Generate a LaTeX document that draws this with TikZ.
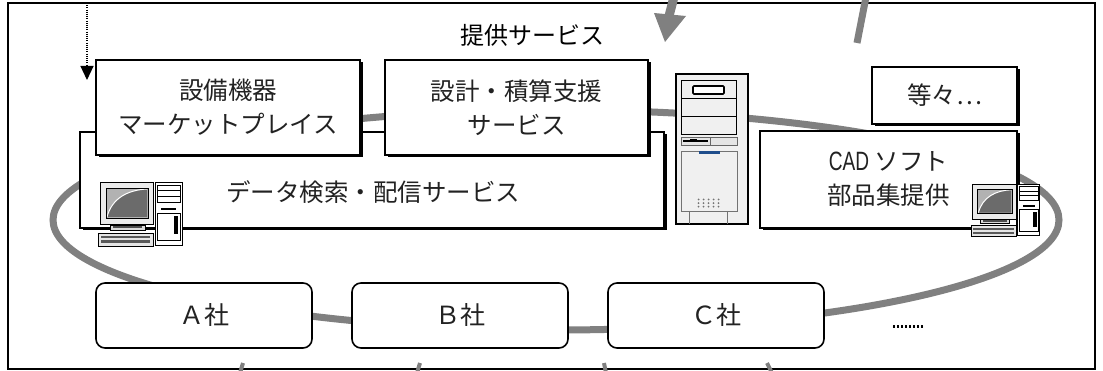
\documentclass[tikz,border=0pt]{standalone}
\usepackage{fontspec}
\setmainfont{Noto Sans CJK JP}
\newfontfamily\narrowsans[FakeStretch=0.72]{Liberation Sans}
\usetikzlibrary{arrows.meta,shadows}

\definecolor{ringgray}{HTML}{808080}
\definecolor{textgray}{HTML}{222222}
\definecolor{ledblue}{HTML}{1F4E8C}

\tikzset{
  svcbox/.style={draw, line width=1.6pt, fill=white, inner sep=0pt, align=center,
    text=textgray, font=\fontsize{24.5}{34}\selectfont,
    drop shadow={shadow xshift=2.5pt, shadow yshift=-2.5pt, fill=black, opacity=1}},
  compbox/.style={draw, line width=1.6pt, fill=white, rounded corners=9pt,
    minimum width=216, minimum height=65, inner sep=0pt,
    text=textgray, font=\fontsize{25}{30}\selectfont},
  ring/.style={draw=ringgray, line width=7pt},
  spoke/.style={draw=ringgray, line width=4pt},
  feed/.style={line width=1.1pt, dash pattern=on 1.1pt off 1.1pt,
    -{Triangle[width=13pt,length=14pt]}},
  pics/desktop/.style={code={
    % tower unit
    \draw[line width=0.8pt, fill=white] (57,0) rectangle (84,63);
    \draw[line width=0.6pt] (59,3) rectangle (82,20);
    \draw[line width=0.5pt] (59,8.5) -- (82,8.5) (59,14) -- (82,14);
    \fill (63,26) rectangle (78,28.5);
    \draw[line width=0.5pt] (59,31) rectangle (82,58);
    \fill (76,34) rectangle (80,52);
    % monitor with shaded screen
    \draw[line width=1pt, fill=black!8] (2,1) rectangle (55,43);
    \fill[black!30] (8,6) rectangle (50,36);
    \fill[black!58] (9,35) .. controls (14,16) and (30,8) .. (49,7) -- (49,35) -- cycle;
    \draw[white, line width=1pt] (9,35) .. controls (14,16) and (30,8) .. (49,7);
    \draw[line width=0.8pt] (8,6) rectangle (50,36);
    % monitor base
    \draw[line width=0.8pt, fill=black!15] (12,43) rectangle (47,48);
    \fill[black!70] (15,44.5) rectangle (44,46.5);
    % keyboard
    \draw[line width=0.8pt, fill=black!10] (0,51) rectangle (55,64);
    \fill[black!65] (3,54) rectangle (52,56.5);
    \fill[black!65] (3,58.5) rectangle (52,61);
  }}
}

\begin{document}
\begin{tikzpicture}[x=1pt, y=-1pt]
  \useasboundingbox (0,0) rectangle (1103,371);

  % outer frame
  \draw[line width=2pt] (8,3) rectangle (1095,369);

  % network ring joining the services and the companies
  \draw[ring] (556,220) ellipse [x radius=503, y radius=110];

  % service boxes
  \node[svcbox, minimum width=584, minimum height=96] (datasearch) at (372,180) {};
  \node[text=textgray, font=\fontsize{24.5}{30}\selectfont] (dstext) at (373,192)
    {データ検索・配信サービス};
  \node[svcbox, minimum width=264, minimum height=95] (market) at (228,107.5)
    {設備機器\\マーケットプレイス};
  \node[svcbox, minimum width=263, minimum height=95] (design) at (516.5,107.5)
    {設計・積算支援\\サービス};
  \node[svcbox, minimum width=145, minimum height=57] (etc) at (944.5,95.5)
    {等々⋯};
  \node[svcbox, minimum width=257, minimum height=97] (cad) at (888.5,179.5)
    {{\narrowsans\fontsize{26.5}{34}\selectfont CAD} ソフト\\部品集提供};

  % title
  \node[font=\fontsize{24}{30}\selectfont] (title) at (532,35) {提供サービス};

  % companies
  \node[compbox] (compA) at (204,315.5) {Ａ社};
  \node[compbox] (compB) at (460,315.5) {Ｂ社};
  \node[compbox] (compC) at (716,315.5) {Ｃ社};
  \node[anchor=base, font=\fontsize{20}{20}\selectfont\bfseries\narrowsans] (more)
    at (908,328) {........};

  % server tower
  \draw[line width=1.2pt, fill=black!6] (676,74) rectangle (748,224);
  \draw[line width=1pt] (681,81) rectangle (736,135);
  \draw[line width=1pt] (681,99) -- (736,99) (681,117) -- (736,117);
  \draw[line width=1.6pt, rounded corners=1pt, fill=white] (693,86) rectangle (724,94);
  \draw[line width=0.7pt, draw=black!60, fill=black!10] (681,137.5) rectangle (737,145);
  \draw[line width=0.7pt, draw=black!60] (710,137.5) -- (710,145);
  \draw[line width=1.2pt] (683,141) -- (708,141);
  \fill (690,139.5) rectangle (697,141);
  \draw[line width=0.8pt, draw=black!55] (681,151) rectangle (737,211);
  \fill[ledblue] (699,151.5) rectangle (720,154.5);
  \foreach \r in {0,1,2} {
    \foreach \c in {0,...,4} {
      \fill[black!55] (698.5+5*\c, 199.5+3.6*\r) circle [radius=1];
    }
  }
  \draw[line width=0.8pt, draw=black!55] (689,211) -- (689,224) (727,211) -- (727,224);

  % desktop computers
  \pic at (98,182) {desktop};
  \pic[scale=0.82] at (971,184) {desktop};

  % feed from above into the marketplace
  \coordinate (feedtop) at (87,3);
  \coordinate (feedend) at (87,80);
  \draw[feed] (feedtop) -- (feedend);

  % lines leaving the frame
  \coordinate (inTop) at (674,-3);
  \coordinate (inMid) at (669,16);
  \draw[ringgray, line width=9pt] (inTop) -- (inMid);
  \fill[ringgray] (654,13) -- (686,16) -- (665,42) -- cycle;
  \coordinate (outTopA) at (866,-3);
  \coordinate (outTopB) at (857,43);
  \draw[ringgray, line width=7pt] (outTopA) -- (outTopB);

  \coordinate (s1a) at (243,363); \coordinate (s1b) at (240,373);
  \coordinate (s2a) at (420,363); \coordinate (s2b) at (417,373);
  \coordinate (s3a) at (604,363); \coordinate (s3b) at (606,373);
  \coordinate (s4a) at (767,363); \coordinate (s4b) at (772,373);
  \draw[spoke] (s1a) -- (s1b) (s2a) -- (s2b) (s3a) -- (s3b) (s4a) -- (s4b);
\end{tikzpicture}
\end{document}
